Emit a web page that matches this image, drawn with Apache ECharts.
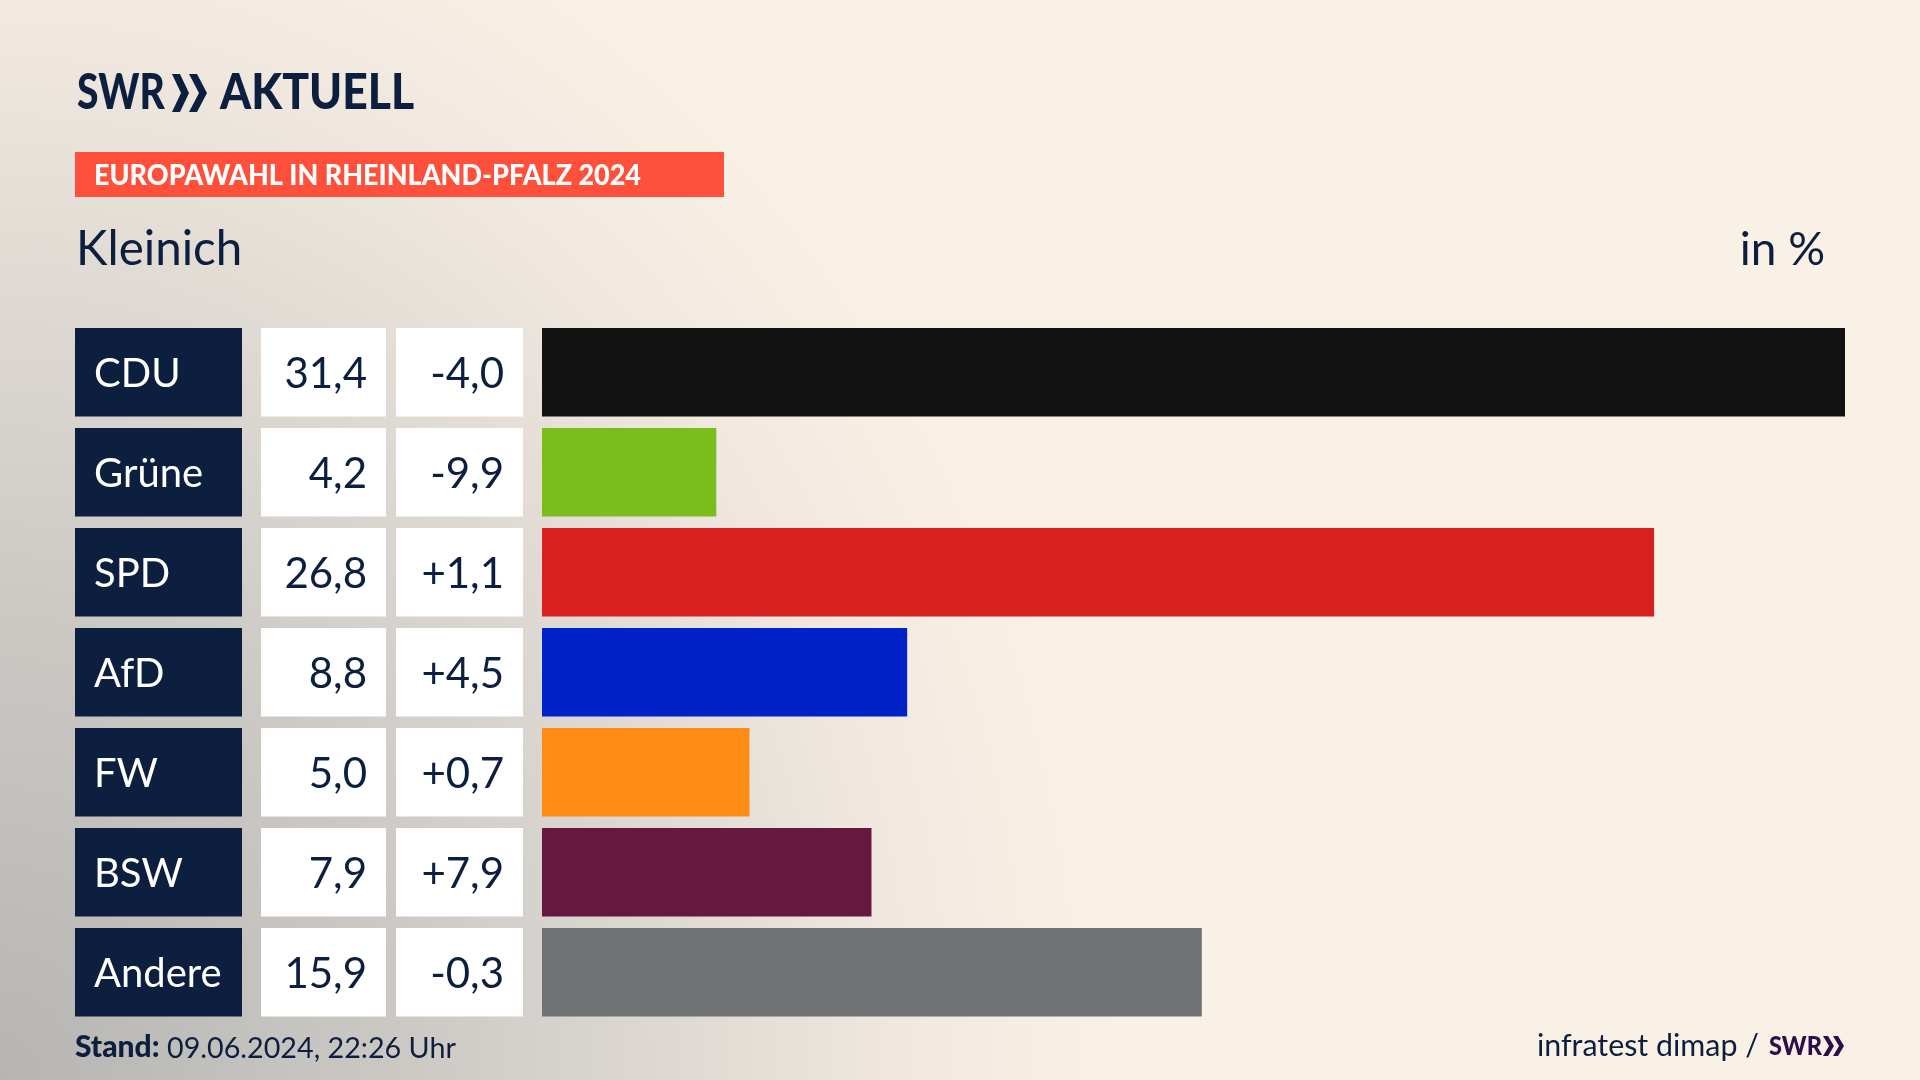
<!DOCTYPE html>
<html><head><meta charset="utf-8">
<style>
html,body{margin:0;padding:0;width:1920px;height:1080px;overflow:hidden;
background:radial-gradient(ellipse 1120px 1300px at 0px 1080px,#b6b5b3 0%,#cbc8c4 35%,#dcd7d1 58%,#f0e8df 80%,#faf1e6 100%),#faf1e6;}
#c{width:1920px;height:1080px}
</style>
<script src="https://cdn.jsdelivr.net/npm/echarts@6/dist/echarts.min.js"></script>
</head><body><div id="c"></div>
<script>
const categories=["CDU","Grüne","SPD","AfD","FW","BSW","Andere"];
const shares=[31.4,4.2,26.8,8.8,5.0,7.94,15.9];
const changes=[-4.0,-9.9,1.1,4.5,0.7,7.9,-0.3];
const partyColors=["#121212","#7bbd1a","#d8201e","#0022c8","#ff8c14","#66193f","#717274"];
const heading="EUROPAWAHL IN RHEINLAND-PFALZ 2024";
const place="Kleinich";
const unit="in %";
const NAVY="#0c1f3f", FONT="Lato";
const de=v=>v.toFixed(1).replace(".",",");
const signed=v=>(v>0?"+":"")+de(v);
const chevron=(x,y,w,h,t,fill)=>({type:'polygon',silent:true,shape:{points:[[x,y],[x+t,y],[x+w,y+h/2],[x+t,y+h],[x,y+h],[x+w-t,y+h/2]]},style:{fill}});
const text=(x,base,t,size,weight,fill,align,sx)=>({type:'text',silent:true,x,y:base-Math.round(size*.85),scaleX:sx||1,
  style:{text:t,font:`${weight} ${size}px ${FONT}`,fill,align:align||'left',verticalAlign:'top'}});
const cellAxis=(offset,width,bg,color,align,pad,size,fmt)=>({
  type:'category',data:categories,inverse:true,position:'left',offset,
  axisLine:{show:false},axisTick:{show:false},
  axisLabel:{margin:0,interval:0,align:'right',verticalAlign:'middle',
    formatter:(v,i)=>'{c|'+fmt(v,i)+'}',
    rich:{c:{width:width-pad,height:85,lineHeight:85,backgroundColor:bg,color,fontFamily:FONT,fontSize:size,align,
      padding:align==='left'?[3.5,0,0,pad]:[3.5,pad,0,0]}}}
});
const chart=echarts.init(document.getElementById('c'),null,{renderer:'canvas'});
chart.setOption({
  animation:false,
  grid:{left:542,top:322.25,width:1303,height:700,containLabel:false},
  xAxis:{type:'value',min:0,max:31.4,show:false},
  yAxis:[
    {type:'category',data:categories,inverse:true,show:false},
    cellAxis(19,127,'#ffffff',NAVY,'right',19,42,(v,i)=>signed(changes[i])),
    cellAxis(156,125,'#ffffff',NAVY,'right',19,42,(v,i)=>de(shares[i])),
    cellAxis(300,167,NAVY,'#ffffff','left',19,40,v=>v)
  ],
  series:[{type:'bar',data:shares.map((v,i)=>({value:v,itemStyle:{color:partyColors[i]}})),barWidth:88.5,yAxisIndex:0,silent:true}],
  graphic:[
    text(77,111,"SWR",50,900,NAVY,'left',.78),
    chevron(172,74,17,38,8,NAVY),chevron(189,74,18,38,8,NAVY),
    text(220,111,"AKTUELL",50,900,NAVY,'left',.89),
    {type:'rect',silent:true,shape:{x:75,y:152,width:649,height:45},style:{fill:'#ff503c'}},
    text(94,186,heading,29,900,'#ffffff','left',.93),
    text(76,266,place,47.5,400,NAVY),
    text(1825,266,unit,46,400,NAVY,'right'),
    text(75,1058,"Stand:",30,900,NAVY),
    text(167,1058,"09.06.2024, 22:26 Uhr",28.7,400,NAVY),
    text(1759,1057,"infratest dimap /",30.4,400,NAVY,'right'),
    text(1769,1056,"SWR",27,900,'#2a0f4a','left',.87),
    chevron(1823,1036,11,20,5,'#2a0f4a'),chevron(1833,1036,11,20,5,'#2a0f4a')
  ]
});
</script></body></html>
